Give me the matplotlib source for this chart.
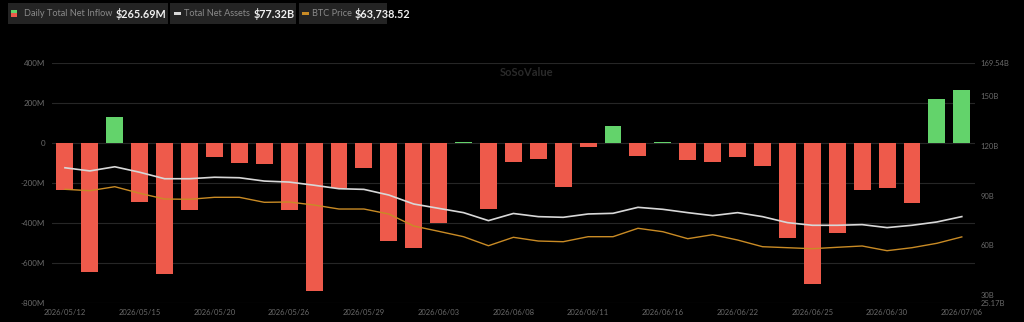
import matplotlib
matplotlib.use("Agg")
import matplotlib.pyplot as plt
from matplotlib.patches import Rectangle
import numpy as np

plt.rcParams['font.family'] = ['Lato', 'DejaVu Sans']

dates = ["2026/05/12", "2026/05/13", "2026/05/14", "2026/05/15", "2026/05/18", "2026/05/19",
         "2026/05/20", "2026/05/21", "2026/05/22", "2026/05/26", "2026/05/27", "2026/05/28",
         "2026/05/29", "2026/06/01", "2026/06/02", "2026/06/03", "2026/06/04", "2026/06/05",
         "2026/06/08", "2026/06/09", "2026/06/10", "2026/06/11", "2026/06/12", "2026/06/15",
         "2026/06/16", "2026/06/17", "2026/06/18", "2026/06/22", "2026/06/23", "2026/06/24",
         "2026/06/25", "2026/06/26", "2026/06/29", "2026/06/30", "2026/07/01", "2026/07/02",
         "2026/07/06"]
net_inflow_m = [-233, -642, 130, -293, -653, -333, -70, -100, -105, -335, -740, -225,
                -125, -488, -522, -400, 5, -328, -93, -78, -217, -20, 87, -65,
                8, -83, -93, -70, -115, -472, -702, -448, -233, -225, -297, 221, 265.69]
net_assets_b = [106.7, 104.8, 107.3, 104.0, 100.1, 100.1, 101.0, 100.7, 98.7, 98.1, 96.2, 94.1,
                93.7, 90.3, 84.9, 82.3, 79.7, 74.9, 79.2, 77.3, 76.9, 78.9, 79.3, 82.9,
                81.7, 79.7, 77.9, 79.7, 77.3, 73.7, 72.1, 72.1, 72.5, 70.7, 72.1, 74.1, 77.32]
btc_price = [80400, 79910, 81310, 79000, 77000, 76900, 77600, 77600, 75850, 75950, 74900, 73500,
             73500, 71750, 67550, 65700, 63810, 60650, 63600, 62300, 62060, 63810, 63810, 66750,
             65560, 63110, 64510, 62650, 60310, 59960, 59610, 60100, 60560, 58910, 59960, 61500, 63738.52]
left_ticks = [-800, -600, -400, -200, 0, 200, 400]
left_labels = ["-800M", "-600M", "-400M", "-200M", "0", "200M", "400M"]
right_ticks = [25.17, 30, 60, 90, 120, 150, 169.54]
right_labels = ["25.17B", "30B", "60B", "90B", "120B", "150B", "169.54B"]
legend_labels = ["Daily Total Net Inflow", "Total Net Assets", "BTC Price"]
legend_values = ["$265.69M", "$77.32B", "$63,738.52"]

BG = "#000000"
RED = "#ee5a4b"
GREEN = "#63d36b"
WHITE_L = "#d8d8d8"
ORANGE = "#c98b25"
GRID = "#262626"
TICK = "#6a6a6a"

W, H = 1024, 322
fig = plt.figure(figsize=(W / 100, H / 100), dpi=100, facecolor=BG)

def fx(px):
    return px / W

def fy(py):
    return 1 - py / H

ax = fig.add_axes([fx(52), fy(303.3), fx(975 - 52), (303.3 - 63.3) / H])
ax.set_facecolor(BG)
x = np.arange(len(dates))
colors = [GREEN if v >= 0 else RED for v in net_inflow_m]
ax.bar(x, net_inflow_m, width=0.68, color=colors, zorder=2)
ax.set_ylim(-800, 400)
ax.set_xlim(-0.52, len(dates) - 1 + 0.53)
ax.set_yticks(left_ticks)
ax.set_yticklabels(left_labels)
ax.grid(axis='y', color=GRID, linewidth=0.8, zorder=0)
ax.set_axisbelow(True)
ax.set_xticks(x[::3])
ax.set_xticklabels([dates[i] for i in range(0, len(dates), 3)])
for s in ax.spines.values():
    s.set_visible(False)
ax.tick_params(axis='both', length=0, colors=TICK, labelsize=5.8)
ax.tick_params(axis='x', labelsize=5.5, pad=4)
ax.tick_params(axis='y', pad=5)

ax2 = ax.twinx()
ax2.plot(x, net_assets_b, color=WHITE_L, linewidth=1.2, zorder=4)
ax2.set_ylim(25.17, 169.54)
ax2.set_yticks(right_ticks)
ax2.set_yticklabels(right_labels)
ax2.tick_params(axis='y', length=0, colors=TICK, labelsize=5.5, pad=4)
for s in ax2.spines.values():
    s.set_visible(False)

ax3 = ax.twinx()
ax3.plot(x, btc_price, color=ORANGE, linewidth=1.0, zorder=3)
ax3.set_ylim(40500, 124500)
ax3.set_yticks([])
for s in ax3.spines.values():
    s.set_visible(False)

# watermark
fig.text(fx(527), fy(73), "SoSoValue", color="#2a2a2a", fontsize=8, ha='center', va='center', fontweight='bold')

# legend boxes
boxes = [(8, 168), (170, 296), (299, 387)]
label_x = [24, 184, 312]
value_x = [116, 254, 355]
for (x0, x1) in boxes:
    fig.patches.append(Rectangle((fx(x0), fy(24)), fx(x1 - x0), 21 / H, transform=fig.transFigure,
                                 facecolor="#242424", edgecolor='none'))
# icons
fig.patches.append(Rectangle((fx(11), fy(13.5)), fx(6), 3.5 / H, transform=fig.transFigure, facecolor=GREEN, edgecolor='none'))
fig.patches.append(Rectangle((fx(11), fy(17)), fx(6), 3.5 / H, transform=fig.transFigure, facecolor=RED, edgecolor='none'))
fig.patches.append(Rectangle((fx(174), fy(14.5)), fx(7), 2.5 / H, transform=fig.transFigure, facecolor=WHITE_L, edgecolor='none'))
fig.patches.append(Rectangle((fx(302), fy(14.5)), fx(7), 2.5 / H, transform=fig.transFigure, facecolor=ORANGE, edgecolor='none'))
for lx, vx, lab, val in zip(label_x, value_x, legend_labels, legend_values):
    fig.text(fx(lx), fy(13.5), lab, color="#8a8a8a", fontsize=6.6, ha='left', va='center')
    fig.text(fx(vx), fy(13.5), val, color="#f0f0f0", fontsize=7.8, ha='left', va='center', fontweight='bold')

fig.savefig("out.png", dpi=100, facecolor=BG)
